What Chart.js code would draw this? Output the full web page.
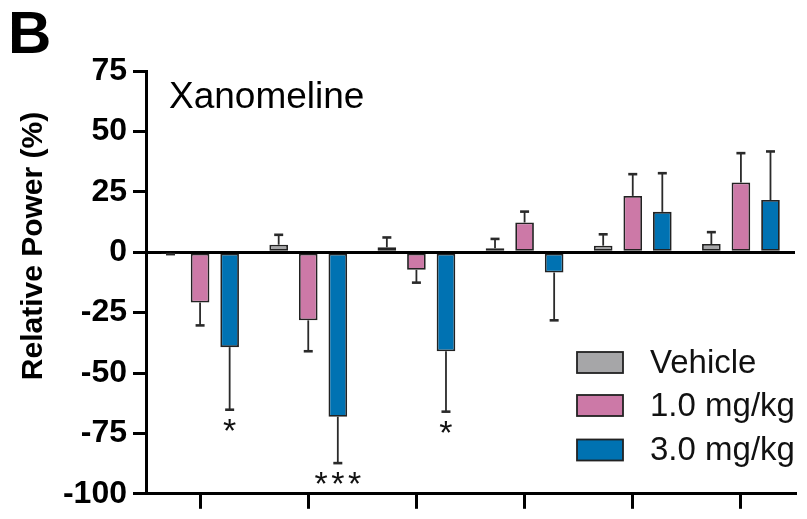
<!DOCTYPE html>
<html>
<head>
<meta charset="utf-8">
<script src="https://cdn.jsdelivr.net/npm/chart.js@4.4.1/dist/chart.umd.min.js"></script>
<style>
  html, body { margin: 0; padding: 0; background: #fff; }
  #wrap { width: 807px; height: 519px; position: relative; }
</style>
</head>
<body>
<div id="wrap"><canvas id="chart"></canvas></div>
<script>
// Six recording bands (labels not shown under the axis)
const categories = ['Band 1', 'Band 2', 'Band 3', 'Band 4', 'Band 5', 'Band 6'];
const seriesNames = ['Vehicle', '1.0 mg/kg', '3.0 mg/kg'];

// Mean relative power (%) and SEM per group
const vehicleMean = [-0.2, 3.1, 2.0, 1.6, 2.7, 3.4];
const vehicleSem  = [0.6, 4.1, 4.1, 3.9, 4.7, 4.9];
const dose1Mean   = [-20.8, -28.2, -7.3, 12.3, 23.3, 28.9];
const dose1Sem    = [9.5, 12.8, 5.3, 4.5, 9.0, 12.1];
const dose3Mean   = [-39.3, -68.1, -41.0, -8.4, 16.7, 21.6];
const dose3Sem    = [25.9, 19.2, 25.0, 19.8, 16.0, 20.1];
const dose3Stars  = ['*', '***', '*', '', '', ''];

const yTicks = [-100, -75, -50, -25, 0, 25, 50, 75];

const FONT = '"Liberation Sans", Arial, Helvetica, sans-serif';
const colors = ['#a6a6a8', '#cc79a7', '#0072b2'];

// One-sided SEM whiskers plus significance marks
const errorBars = {
  id: 'errorBars',
  afterDatasetsDraw(chart) {
    const ctx = chart.ctx;
    const y = chart.scales.y;
    chart.data.datasets.forEach((ds, i) => {
      const meta = chart.getDatasetMeta(i);
      meta.data.forEach((bar, j) => {
        const v = ds.data[j];
        const e = ds.sem[j];
        const dir = v < 0 ? -1 : 1;
        const y0 = y.getPixelForValue(v);
        const y1 = y.getPixelForValue(v + dir * e);
        ctx.save();
        ctx.strokeStyle = '#2a2a2a';
        ctx.lineWidth = 1.8;
        ctx.beginPath();
        ctx.moveTo(bar.x, y0);
        ctx.lineTo(bar.x, y1);
        ctx.stroke();
        ctx.lineWidth = 2.6;
        ctx.beginPath();
        ctx.moveTo(bar.x - 4.5, y1);
        ctx.lineTo(bar.x + 4.5, y1);
        ctx.stroke();
        const star = ds.stars ? ds.stars[j] : '';
        if (star) {
          const size = 34;
          const gap = 16.7;
          ctx.fillStyle = '#111';
          ctx.font = size + 'px ' + FONT;
          ctx.textAlign = 'center';
          ctx.textBaseline = 'alphabetic';
          const n = star.length;
          for (let k = 0; k < n; k++) {
            const sx = bar.x + (k - (n - 1) / 2) * gap;
            ctx.fillText('*', sx, y1 + 8 + 0.716 * size);
          }
        }
        ctx.restore();
      });
    });
  }
};

// Panel letter, drug name, axis title and legend
const annotations = {
  id: 'annotations',
  afterDraw(chart) {
    const ctx = chart.ctx;
    ctx.save();
    ctx.fillStyle = '#000';
    ctx.textBaseline = 'alphabetic';
    ctx.textAlign = 'left';
    ctx.font = 'bold 60px ' + FONT;
    ctx.fillText('B', 8, 53);

    ctx.font = '37px ' + FONT;
    ctx.fillText('Xanomeline', 169, 108);

    ctx.save();
    ctx.translate(42, 246);
    ctx.rotate(-Math.PI / 2);
    ctx.textAlign = 'center';
    ctx.font = 'bold 30px ' + FONT;
    ctx.fillText('Relative Power (%)', 0, 0);
    ctx.restore();

    const boxX = 577, boxW = 46, boxH = 21;
    const rowY = [362.5, 405.5, 450];
    ctx.font = '33px ' + FONT;
    ctx.textBaseline = 'middle';
    seriesNames.forEach((name, i) => {
      ctx.fillStyle = colors[i];
      ctx.fillRect(boxX, rowY[i] - boxH / 2, boxW, boxH);
      ctx.strokeStyle = '#222';
      ctx.lineWidth = 1.8;
      ctx.strokeRect(boxX, rowY[i] - boxH / 2, boxW, boxH);
      ctx.fillStyle = '#111';
      ctx.fillText(name, 650, rowY[i] + 1);
    });
    ctx.restore();
  }
};

const means = [vehicleMean, dose1Mean, dose3Mean];
const sems = [vehicleSem, dose1Sem, dose3Sem];
const stars = [null, null, dose3Stars];

new Chart(document.getElementById('chart'), {
  type: 'bar',
  data: {
    labels: categories,
    datasets: seriesNames.map((name, i) => ({
      label: name,
      data: means[i],
      sem: sems[i],
      stars: stars[i],
      backgroundColor: colors[i],
      borderColor: '#222',
      borderWidth: 1.8,
      borderSkipped: false,
      categoryPercentage: 0.82,
      barPercentage: 0.63
    }))
  },
  options: {
    responsive: true,
    maintainAspectRatio: false,
    animation: false,
    layout: { padding: { top: 71, right: 12, bottom: 0, left: 0 } },
    plugins: {
      legend: { display: false },
      tooltip: { enabled: false }
    },
    scales: {
      x: {
        offset: true,
        grid: {
          offset: false,
          drawOnChartArea: false,
          color: '#000',
          tickColor: '#000',
          lineWidth: 3,
          tickLength: 15
        },
        border: { display: true, color: '#000', width: 3 },
        ticks: { display: false },
        afterFit(scale) { scale.height = 22; }
      },
      y: {
        min: -100,
        max: 75,
        afterBuildTicks(scale) {
          scale.ticks = yTicks.map(v => ({ value: v }));
        },
        grid: {
          drawOnChartArea: true,
          color: ctx => (ctx.tick && ctx.tick.value === 0 ? '#000' : 'rgba(0,0,0,0)'),
          tickColor: '#000',
          lineWidth: 3,
          tickWidth: 3,
          tickLength: 13
        },
        border: { display: true, color: '#000', width: 3 },
        ticks: {
          color: '#000',
          padding: 6,
          font: { family: FONT, size: 32, weight: 'bold' },
          callback: v => String(v)
        },
        afterFit(scale) { scale.width = 146; }
      }
    }
  },
  plugins: [errorBars, annotations]
});
</script>
</body>
</html>
